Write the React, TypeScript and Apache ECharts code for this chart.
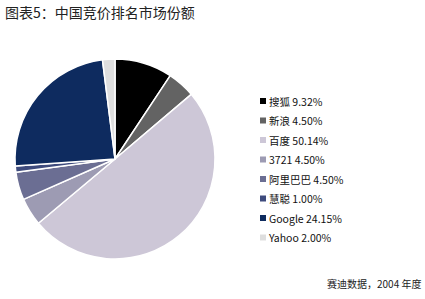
import React, { useEffect, useRef } from "react";
import * as echarts from "echarts";

const names = ["搜狐", "新浪", "百度", "3721", "阿里巴巴", "慧聪", "Google", "Yahoo"];
const values = [9.32, 4.5, 50.14, 4.5, 4.5, 1.0, 24.15, 2.0];
const labels = ["9.32%", "4.50%", "50.14%", "4.50%", "4.50%", "1.00%", "24.15%", "2.00%"];
const colors = ["#000000", "#636363", "#cdc7d7", "#9d9bb3", "#6b6e93", "#3e4b7d", "#0e2b5f", "#dedede"];
const titleText = "图表5：中国竞价排名市场份额";
const sourceText = "赛迪数据，2004 年度";

export default function App() {
  const ref = useRef<HTMLDivElement>(null);
  useEffect(() => {
    const chart = echarts.init(ref.current!, null, { renderer: "svg" });
    const font = "'Noto Sans CJK SC', sans-serif";
    chart.setOption({
      animation: false,
      color: colors,
      textStyle: { fontFamily: font },
      title: [
        {
          text: titleText,
          left: 0,
          top: 0,
          textStyle: { fontSize: 14, fontWeight: "normal", color: "#222", fontFamily: font },
        },
        {
          text: sourceText,
          left: 322,
          top: 273,
          textStyle: { fontSize: 10, fontWeight: "normal", color: "#222", fontFamily: font },
        },
      ],
      legend: {
        orient: "vertical",
        left: 258,
        top: 95,
        padding: 0,
        icon: "rect",
        itemWidth: 8,
        itemHeight: 8,
        itemGap: 7.5,
        textStyle: { fontSize: 10.5, color: "#111", lineHeight: 12, fontFamily: font, padding: [0, 0, 0, -3] },
        formatter: (n: string) => n + " " + labels[names.indexOf(n)],
      },
      series: [
        {
          type: "pie",
          center: [115, 159],
          radius: 100,
          startAngle: 90,
          clockwise: true,
          label: { show: false },
          labelLine: { show: false },
          emphasis: { disabled: true },
          itemStyle: { borderColor: "#ffffff", borderWidth: 1.5 },
          data: names.map((n, i) => ({ name: n, value: values[i] })),
        },
      ],
    });
    return () => chart.dispose();
  }, []);
  return (
    <div
      ref={ref}
      style={{ position: "fixed", left: 0, top: 0, width: 425, height: 299, background: "#fff" }}
    />
  );
}
